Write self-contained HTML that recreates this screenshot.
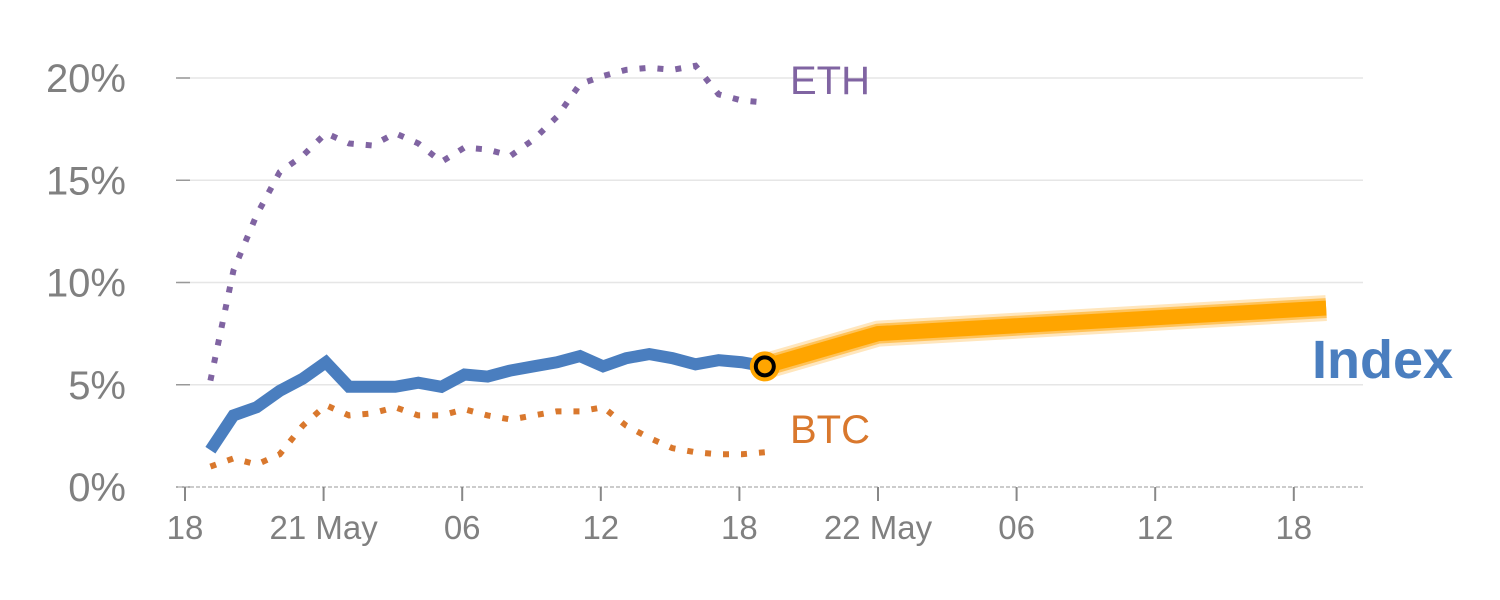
<!DOCTYPE html>
<html><head><meta charset="utf-8"><style>
body{margin:0;background:#fff;}
svg{display:block;font-family:"Liberation Sans",Arial,sans-serif;}
</style></head><body>
<svg id="chart" width="1500" height="600"></svg>
<script>
const yTicks=[0,5,10,15,20];
const xTickHours=[0,6,12,18,24,30,36,42,48];
const xTickLabels=["18","21 May","06","12","18","22 May","06","12","18"];
const indexStart=1.1;
const indexValues=[1.8,3.5,3.9,4.7,5.3,6.1,4.9,4.9,4.9,5.1,4.9,5.5,5.4,5.7,5.9,6.1,6.4,5.9,6.3,6.5,6.3,6.0,6.2,6.1,5.9];
const ethValues=[5.2,10.6,13.3,15.4,16.2,17.3,16.8,16.7,17.3,16.8,15.9,16.6,16.5,16.2,17.0,18.1,19.7,20.1,20.4,20.5,20.4,20.6,19.2,18.9,18.8];
const btcValues=[1.0,1.4,1.1,1.6,3.0,4.0,3.5,3.6,3.9,3.5,3.5,3.8,3.5,3.3,3.5,3.7,3.7,3.9,3.0,2.4,1.9,1.7,1.6,1.6,1.7];
const forecastHours=[25.1,30,49.4];
const forecastValues=[5.9,7.5,8.75];

const X=h=>185+h*23.1;
const Y=v=>487-v*20.45;
const svg=document.getElementById('chart');
const NS='http://www.w3.org/2000/svg';
function mk(tag,attrs,parent){const e=document.createElementNS(NS,tag);for(const k in attrs)e.setAttribute(k,attrs[k]);(parent||svg).appendChild(e);return e;}

yTicks.forEach(v=>{
  if(v>0){const g=mk('line',{x1:178,x2:1363,y1:Y(v),y2:Y(v),stroke:'#e6e6e6','stroke-width':1.5});
  
  }
  const tk=mk('line',{x1:176,x2:190,y1:Y(v),y2:Y(v),stroke:'#999','stroke-width':1.5});
  
  
  const t=mk('text',{x:126,y:Y(v)+14,'text-anchor':'end','font-size':40,fill:'#808080'});
  t.textContent=v+'%';
  
  
});
const ax=mk('line',{x1:178,x2:1363,y1:487,y2:487,stroke:'#ccc','stroke-width':2,'stroke-dasharray':'4,2'});


xTickHours.forEach((h,i)=>{
  const tk=mk('line',{x1:X(h),x2:X(h),y1:487,y2:501,stroke:'#888','stroke-width':2});
  
  
  const t=mk('text',{x:X(h),y:539,'text-anchor':'middle','font-size':33,fill:'#808080'});
  t.textContent=xTickLabels[i];
  
  
});
function pts(vals,start){return vals.map((v,i)=>X(start+i)+','+Y(v)).join(' ');}
const eth=mk('polyline',{points:pts(ethValues,indexStart),fill:'none',stroke:'#8064a2','stroke-width':6,'stroke-dasharray':'6,12'});


const btc=mk('polyline',{points:pts(btcValues,indexStart),fill:'none',stroke:'#d9782d','stroke-width':6,'stroke-dasharray':'6,12'});


const idx=mk('polyline',{points:pts(indexValues,indexStart),fill:'none',stroke:'#4a7ebf','stroke-width':12,'stroke-linejoin':'miter'});


const fp=forecastHours.map((h,i)=>X(h)+','+Y(forecastValues[i])).join(' ');
const halo=mk('polyline',{points:fp,fill:'none',stroke:'#ffe6bd','stroke-width':26});


const mid=mk('polyline',{points:fp,fill:'none',stroke:'#ffc35a','stroke-width':20});


const fl=mk('polyline',{points:fp,fill:'none',stroke:'#ffa500','stroke-width':15});


const m1=mk('circle',{cx:X(forecastHours[0]),cy:Y(forecastValues[0]),r:15,fill:'#ffa500'});


const m2=mk('circle',{cx:X(forecastHours[0]),cy:Y(forecastValues[0]),r:9,fill:'none',stroke:'#000','stroke-width':4});


function label(txt,x,y,size,fill,w,name){const t=mk('text',{x:x,y:y,'font-size':size,fill:fill,'font-weight':w});t.textContent=txt;

}
label('ETH',790,94,40,'#8064a2','normal','eth-label');
label('BTC',790,443,40,'#d9782d','normal','btc-label');
label('Index',1312,378,54,'#4a7ebf','bold','index-label');
</script>
</body></html>
